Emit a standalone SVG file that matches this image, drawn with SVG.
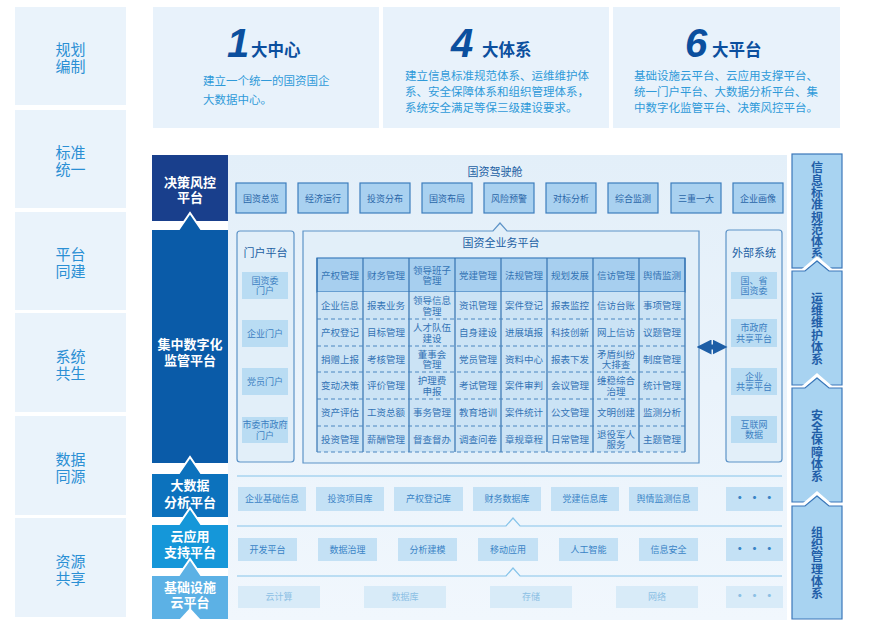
<svg xmlns="http://www.w3.org/2000/svg" width="873" height="634" viewBox="0 0 873 634">
<defs>
<style>
text{font-family:"Noto Sans CJK SC","Noto Sans",sans-serif}
.lbl{fill:#2a8fd4;font-size:15px;text-anchor:middle}
.lbox{fill:#eaf3fb}
.card{fill:#e8f2fb}
.num{font-family:"Liberation Sans",Arial,sans-serif;font-weight:bold;font-style:italic;font-size:40px;fill:#0b4f9e}
.ttl{font-weight:bold;font-size:16.5px;fill:#0b4f9e}
.desc{font-size:11.5px;fill:#2f9ad9}
.blk{fill:#fff;font-size:13px;font-weight:bold;text-anchor:middle}
.btn{fill:#a9d1f0;stroke:#3d7dbd;stroke-width:1.2}
.btnt{fill:#2a66a8;font-size:9px;text-anchor:middle}
.panel{fill:#e2eff9;stroke:#5d93c7;stroke-width:1.2}
.ptitle{fill:#1d5fa3;font-size:11px;text-anchor:middle}
.item{fill:#b9dcf3}
.itemt{fill:#3c80c2;font-size:9px;text-anchor:middle}
.g{fill:#3474b5;font-size:9.5px;text-anchor:middle}
.vl{stroke:#3572b0;stroke-width:1.2}
.hd{stroke:#4a86c0;stroke-width:1;stroke-dasharray:4 3}
.bi{fill:#c4e1f5}
.bit{fill:#3a84c6;font-size:9px;text-anchor:middle}
.bi2{fill:#d8ebf8}
.bit2{fill:#8cc0e4;font-size:9px;text-anchor:middle}
.sep{fill:none;stroke:#86c4ea;stroke-width:1.2}
.rbox{fill:#a8d3f1;stroke:#3b77b9;stroke-width:1.2}
.rt{fill:#1f5ea8;font-size:12px;font-weight:bold;text-anchor:middle;writing-mode:vertical-rl;letter-spacing:0.3px}
.wch{fill:none;stroke:#fff;stroke-width:3}
.dots{fill:#3a84c6;font-size:12px;font-weight:bold;text-anchor:middle}
</style>
<linearGradient id="bg" x1="0" y1="0" x2="0" y2="1">
<stop offset="0" stop-color="#e3eff9"/>
<stop offset="1" stop-color="#f1f7fd"/>
</linearGradient>
<marker id="ah" viewBox="0 0 10 10" refX="5" refY="5" markerWidth="3" markerHeight="3" orient="auto-start-reverse">
<path d="M0,0 L10,5 L0,10 Z" fill="#1d5ea6"/>
</marker>
</defs>
<rect width="873" height="634" fill="#ffffff"/>

<!-- left label column -->
<g id="left-labels">
<rect class="lbox" x="15" y="7" width="111" height="98"/>
<text class="lbl"><tspan x="70.5" y="55">规划</tspan><tspan x="70.5" y="72">编制</tspan></text>
<rect class="lbox" x="15" y="110" width="111" height="98"/>
<text class="lbl"><tspan x="70.5" y="158">标准</tspan><tspan x="70.5" y="175">统一</tspan></text>
<rect class="lbox" x="15" y="212" width="111" height="98"/>
<text class="lbl"><tspan x="70.5" y="260">平台</tspan><tspan x="70.5" y="277">同建</tspan></text>
<rect class="lbox" x="15" y="313" width="111" height="99"/>
<text class="lbl"><tspan x="70.5" y="362">系统</tspan><tspan x="70.5" y="379">共生</tspan></text>
<rect class="lbox" x="15" y="416" width="111" height="99"/>
<text class="lbl"><tspan x="70.5" y="465">数据</tspan><tspan x="70.5" y="482">同源</tspan></text>
<rect class="lbox" x="15" y="518" width="111" height="99"/>
<text class="lbl"><tspan x="70.5" y="567">资源</tspan><tspan x="70.5" y="584">共享</tspan></text>
</g>

<!-- top cards -->
<g id="card-1">
<rect class="card" x="153" y="7" width="226" height="121"/>
<text class="num" x="227" y="57">1</text>
<text class="ttl" x="251" y="56">大中心</text>
<text class="desc"><tspan x="203" y="85">建立一个统一的国资国企</tspan><tspan x="203" y="104">大数据中心。</tspan></text>
</g>
<g id="card-4">
<rect class="card" x="383" y="7" width="226" height="121"/>
<text class="num" x="451" y="57">4</text>
<text class="ttl" x="482" y="56">大体系</text>
<text class="desc"><tspan x="405" y="80">建立信息标准规范体系、运维维护体</tspan><tspan x="405" y="96">系、安全保障体系和组织管理体系，</tspan><tspan x="405" y="112">系统安全满足等保三级建设要求。</tspan></text>
</g>
<g id="card-6">
<rect class="card" x="613" y="7" width="227" height="121"/>
<text class="num" x="685" y="57">6</text>
<text class="ttl" x="712" y="56">大平台</text>
<text class="desc"><tspan x="634" y="80">基础设施云平台、云应用支撑平台、</tspan><tspan x="634" y="96">统一门户平台、大数据分析平台、集</tspan><tspan x="634" y="112">中数字化监管平台、决策风控平台。</tspan></text>
</g>

<!-- main background -->
<rect x="228" y="155" width="559" height="465" fill="url(#bg)"/>

<!-- left platform blocks -->
<g id="blk-decision">
<rect x="152" y="155" width="76" height="66" fill="#193f8c"/>
<text class="blk"><tspan x="190" y="186.5">决策风控</tspan><tspan x="190" y="201.5">平台</tspan></text>
</g>
<g id="blk-central">
<polygon points="177,232 190,213 203,232" fill="#0a5ba8" stroke="#fff" stroke-width="2"/>
<rect x="152" y="230" width="76" height="233" fill="#0a5ba8"/>
<text class="blk"><tspan x="190" y="348.5">集中数字化</tspan><tspan x="190" y="364.5">监管平台</tspan></text>
</g>
<g id="blk-bigdata">
<polygon points="177,476 190,457 203,476" fill="#0c72bd" stroke="#fff" stroke-width="2"/>
<rect x="152" y="474" width="76" height="43" fill="#0c72bd"/>
<text class="blk"><tspan x="190" y="489.5">大数据</tspan><tspan x="190" y="506.5">分析平台</tspan></text>
</g>
<g id="blk-cloudapp">
<polygon points="177,527 190,508 203,527" fill="#1597d9" stroke="#fff" stroke-width="2"/>
<rect x="152" y="525" width="76" height="43" fill="#1597d9"/>
<text class="blk"><tspan x="190" y="540.5">云应用</tspan><tspan x="190" y="556.5">支持平台</tspan></text>
</g>
<g id="blk-infra">
<polygon points="177,578 190,559 203,578" fill="#5cb1e5" stroke="#fff" stroke-width="2"/>
<rect x="152" y="576" width="76" height="43" fill="#5cb1e5"/>
<polygon points="179,620 190,608 201,620" fill="#fff"/>
<text class="blk"><tspan x="190" y="591.5">基础设施</tspan><tspan x="190" y="606.5">云平台</tspan></text>
</g>

<!-- cockpit -->
<g id="cockpit">
<text class="ptitle" x="495" y="176">国资驾驶舱</text>
<rect class="btn" x="236" y="183" width="50" height="30"/><text class="btnt" x="261" y="201.5">国资总览</text>
<rect class="btn" x="298" y="183" width="50" height="30"/><text class="btnt" x="323" y="201.5">经济运行</text>
<rect class="btn" x="360" y="183" width="50" height="30"/><text class="btnt" x="385" y="201.5">投资分布</text>
<rect class="btn" x="422" y="183" width="50" height="30"/><text class="btnt" x="447" y="201.5">国资布局</text>
<rect class="btn" x="484" y="183" width="50" height="30"/><text class="btnt" x="509" y="201.5">风险预警</text>
<rect class="btn" x="546" y="183" width="50" height="30"/><text class="btnt" x="571" y="201.5">对标分析</text>
<rect class="btn" x="608" y="183" width="50" height="30"/><text class="btnt" x="633" y="201.5">综合监测</text>
<rect class="btn" x="671" y="183" width="50" height="30"/><text class="btnt" x="696" y="201.5">三重一大</text>
<rect class="btn" x="733" y="183" width="50" height="30"/><text class="btnt" x="758" y="201.5">企业画像</text>
</g>

<!-- portal -->
<g id="portal">
<rect class="panel" x="237" y="231" width="57" height="231" rx="3"/>
<text class="ptitle" x="265.5" y="257">门户平台</text>
<rect class="item" x="242" y="272" width="46" height="27"/>
<text class="itemt"><tspan x="265" y="283.5">国资委</tspan><tspan x="265" y="294">门户</tspan></text>
<rect class="item" x="242" y="320" width="46" height="27"/>
<text class="itemt" x="265" y="336.5">企业门户</text>
<rect class="item" x="242" y="368" width="46" height="27"/>
<text class="itemt" x="265" y="384.5">党员门户</text>
<rect class="item" x="242" y="417" width="46" height="26"/>
<text class="itemt"><tspan x="265" y="428">市委市政府</tspan><tspan x="265" y="438.5">门户</tspan></text>
</g>

<!-- business platform -->
<g id="business">
<path class="panel" d="M303,231 H493 L500,223 L507,231 H699 V463 H303 Z"/>
<text class="ptitle" x="501" y="247">国资全业务平台</text>
<rect x="317" y="258" width="368" height="34" fill="#a7cfef" stroke="#3d7dbd" stroke-width="1.2"/>
<rect x="317" y="292" width="368" height="160" fill="#cbe3f5"/>
<g class="vl">
<line x1="317" y1="258" x2="317" y2="452"/><line x1="363" y1="258" x2="363" y2="452"/>
<line x1="409" y1="258" x2="409" y2="452"/><line x1="455" y1="258" x2="455" y2="452"/>
<line x1="501" y1="258" x2="501" y2="452"/><line x1="547" y1="258" x2="547" y2="452"/>
<line x1="593" y1="258" x2="593" y2="452"/><line x1="639" y1="258" x2="639" y2="452"/>
<line x1="685" y1="258" x2="685" y2="452"/>
</g>
<g class="hd">
<line x1="317" y1="319" x2="685" y2="319"/><line x1="317" y1="346" x2="685" y2="346"/>
<line x1="317" y1="372" x2="685" y2="372"/><line x1="317" y1="399" x2="685" y2="399"/>
<line x1="317" y1="426" x2="685" y2="426"/><line x1="317" y1="452" x2="685" y2="452"/>
</g>
<!-- header -->
<text class="g" x="340" y="278.5">产权管理</text>
<text class="g" x="386" y="278.5">财务管理</text>
<text class="g"><tspan x="432" y="273.5">领导班子</tspan><tspan x="432" y="284">管理</tspan></text>
<text class="g" x="478" y="278.5">党建管理</text>
<text class="g" x="524" y="278.5">法规管理</text>
<text class="g" x="570" y="278.5">规划发展</text>
<text class="g" x="616" y="278.5">信访管理</text>
<text class="g" x="662" y="278.5">舆情监测</text>
<!-- row1 -->
<text class="g" x="340" y="309">企业信息</text>
<text class="g" x="386" y="309">报表业务</text>
<text class="g"><tspan x="432" y="304">领导信息</tspan><tspan x="432" y="314.5">管理</tspan></text>
<text class="g" x="478" y="309">资讯管理</text>
<text class="g" x="524" y="309">案件登记</text>
<text class="g" x="570" y="309">报表监控</text>
<text class="g" x="616" y="309">信访台账</text>
<text class="g" x="662" y="309">事项管理</text>
<!-- row2 -->
<text class="g" x="340" y="336">产权登记</text>
<text class="g" x="386" y="336">目标管理</text>
<text class="g"><tspan x="432" y="331">人才队伍</tspan><tspan x="432" y="341.5">建设</tspan></text>
<text class="g" x="478" y="336">自身建设</text>
<text class="g" x="524" y="336">进展填报</text>
<text class="g" x="570" y="336">科技创新</text>
<text class="g" x="616" y="336">网上信访</text>
<text class="g" x="662" y="336">议题管理</text>
<!-- row3 -->
<text class="g" x="340" y="362.5">捐赠上报</text>
<text class="g" x="386" y="362.5">考核管理</text>
<text class="g"><tspan x="432" y="357.5">董事会</tspan><tspan x="432" y="368">管理</tspan></text>
<text class="g" x="478" y="362.5">党员管理</text>
<text class="g" x="524" y="362.5">资料中心</text>
<text class="g" x="570" y="362.5">报表下发</text>
<text class="g"><tspan x="616" y="357.5">矛盾纠纷</tspan><tspan x="616" y="368">大排查</tspan></text>
<text class="g" x="662" y="362.5">制度管理</text>
<!-- row4 -->
<text class="g" x="340" y="389">变动决策</text>
<text class="g" x="386" y="389">评价管理</text>
<text class="g"><tspan x="432" y="384">护理费</tspan><tspan x="432" y="394.5">申报</tspan></text>
<text class="g" x="478" y="389">考试管理</text>
<text class="g" x="524" y="389">案件审判</text>
<text class="g" x="570" y="389">会议管理</text>
<text class="g"><tspan x="616" y="384">维稳综合</tspan><tspan x="616" y="394.5">治理</tspan></text>
<text class="g" x="662" y="389">统计管理</text>
<!-- row5 -->
<text class="g" x="340" y="416">资产评估</text>
<text class="g" x="386" y="416">工资总额</text>
<text class="g" x="432" y="416">事务管理</text>
<text class="g" x="478" y="416">教育培训</text>
<text class="g" x="524" y="416">案件统计</text>
<text class="g" x="570" y="416">公文管理</text>
<text class="g" x="616" y="416">文明创建</text>
<text class="g" x="662" y="416">监测分析</text>
<!-- row6 -->
<text class="g" x="340" y="442.5">投资管理</text>
<text class="g" x="386" y="442.5">薪酬管理</text>
<text class="g" x="432" y="442.5">督查督办</text>
<text class="g" x="478" y="442.5">调查问卷</text>
<text class="g" x="524" y="442.5">章规章程</text>
<text class="g" x="570" y="442.5">日常管理</text>
<text class="g"><tspan x="616" y="437.5">退役军人</tspan><tspan x="616" y="448">服务</tspan></text>
<text class="g" x="662" y="442.5">主题管理</text>
</g>

<!-- external systems -->
<g id="external">
<rect class="panel" x="726" y="230" width="56" height="232" rx="3"/>
<text class="ptitle" x="754" y="257">外部系统</text>
<rect class="item" x="731" y="272" width="46" height="27"/>
<text class="itemt"><tspan x="754" y="283.5">国、省</tspan><tspan x="754" y="294">国资委</tspan></text>
<rect class="item" x="731" y="319" width="46" height="28"/>
<text class="itemt"><tspan x="754" y="331">市政府</tspan><tspan x="754" y="341.5">共享平台</tspan></text>
<rect class="item" x="731" y="368" width="46" height="27"/>
<text class="itemt"><tspan x="754" y="379.5">企业</tspan><tspan x="754" y="390">共享平台</tspan></text>
<rect class="item" x="731" y="416" width="46" height="27"/>
<text class="itemt"><tspan x="754" y="427.5">互联网</tspan><tspan x="754" y="438">数据</tspan></text>
</g>

<!-- connectors -->
<g id="connectors">
<line x1="704" y1="347" x2="720" y2="347" stroke="#1d5ea6" stroke-width="5" marker-start="url(#ah)" marker-end="url(#ah)"/>
<line class="sep" x1="237" y1="476" x2="782" y2="476"/>
<polyline class="sep" points="237,526 506,526 513,518 520,526 782,526"/>
<polyline class="sep" points="237,576 506,576 513,568 520,576 782,576"/>
</g>

<!-- big data row -->
<g id="row-bigdata">
<rect class="bi" x="238" y="487" width="68" height="24"/><text class="bit" x="272" y="502">企业基础信息</text>
<rect class="bi" x="316" y="487" width="68" height="24"/><text class="bit" x="350" y="502">投资项目库</text>
<rect class="bi" x="394" y="487" width="69" height="24"/><text class="bit" x="428.5" y="502">产权登记库</text>
<rect class="bi" x="473" y="487" width="68" height="24"/><text class="bit" x="507" y="502">财务数据库</text>
<rect class="bi" x="551" y="487" width="68" height="24"/><text class="bit" x="585" y="502">党建信息库</text>
<rect class="bi" x="629" y="487" width="69" height="24"/><text class="bit" x="663.5" y="502">舆情监测信息</text>
<rect class="bi" x="726" y="487" width="57" height="24"/><text class="dots" x="754.5" y="503">· · ·</text>
</g>

<!-- cloud app row -->
<g id="row-cloudapp">
<rect class="bi" x="238" y="538" width="59" height="23"/><text class="bit" x="267.5" y="552.5">开发平台</text>
<rect class="bi" x="318" y="538" width="59" height="23"/><text class="bit" x="347.5" y="552.5">数据治理</text>
<rect class="bi" x="398" y="538" width="59" height="23"/><text class="bit" x="427.5" y="552.5">分析建模</text>
<rect class="bi" x="478" y="538" width="60" height="23"/><text class="bit" x="508" y="552.5">移动应用</text>
<rect class="bi" x="559" y="538" width="59" height="23"/><text class="bit" x="588.5" y="552.5">人工智能</text>
<rect class="bi" x="639" y="538" width="59" height="23"/><text class="bit" x="668.5" y="552.5">信息安全</text>
<rect class="bi" x="726" y="538" width="57" height="23"/><text class="dots" x="754.5" y="553.5">· · ·</text>
</g>

<!-- infra row -->
<g id="row-infra">
<rect class="bi2" x="238" y="586" width="82" height="22"/><text class="bit2" x="279" y="600">云计算</text>
<rect class="bi2" x="364" y="586" width="82" height="22"/><text class="bit2" x="405" y="600">数据库</text>
<rect class="bi2" x="490" y="586" width="82" height="22"/><text class="bit2" x="531" y="600">存储</text>
<rect class="bi2" x="616" y="586" width="82" height="22"/><text class="bit2" x="657" y="600">网络</text>
<rect class="bi2" x="726" y="586" width="57" height="22"/><text class="dots" x="754.5" y="601" style="fill:#8cc0e4">· · ·</text>
</g>

<!-- right column -->
<g id="sys-standard">
<rect class="rbox" x="792" y="154" width="50" height="114"/>
<text class="rt" x="817" y="211">信息标准规范体系</text>
</g>
<g id="sys-ops">
<polyline class="wch" points="802,271 817,258 832,271"/>
<path class="rbox" d="M792,271 H805 L817,261 L829,271 H842 V385 H792 Z"/>
<text class="rt" x="817" y="329">运维维护体系</text>
</g>
<g id="sys-security">
<polyline class="wch" points="802,388 817,375 832,388"/>
<path class="rbox" d="M792,388 H805 L817,378 L829,388 H842 V502 H792 Z"/>
<text class="rt" x="817" y="446">安全保障体系</text>
</g>
<g id="sys-org">
<polyline class="wch" points="802,506 817,493 832,506"/>
<path class="rbox" d="M792,506 H805 L817,496 L829,506 H842 V619 H792 Z"/>
<text class="rt" x="817" y="563">组织管理体系</text>
</g>
</svg>
